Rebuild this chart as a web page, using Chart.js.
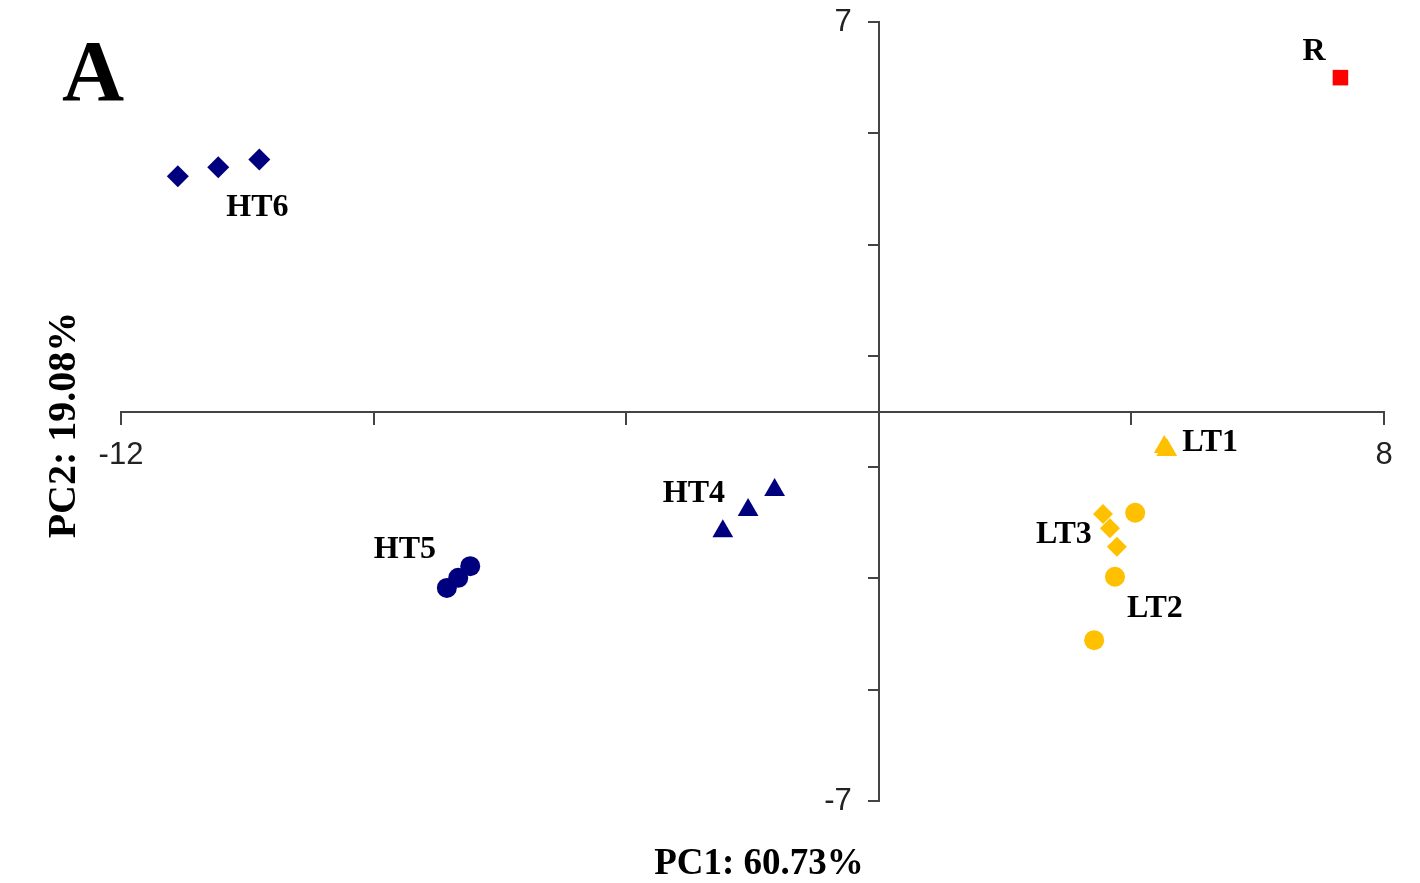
<!DOCTYPE html>
<html>
<head>
<meta charset="utf-8">
<script src="https://cdn.jsdelivr.net/npm/chart.js@4"></script>
<style>
  html, body { margin: 0; padding: 0; background: #fff; }
  #wrap { width: 1420px; height: 883px; }
</style>
</head>
<body>
<div id="wrap"><canvas id="pca"></canvas></div>
<script>
// PCA scores (PC1, PC2)
const ht6X = [-11.10, -10.46, -9.81];
const ht6Y = [4.23, 4.39, 4.53];
const ht5X = [-6.84, -6.66, -6.47];
const ht5Y = [-3.17, -2.99, -2.78];
const ht4X = [-2.47, -2.07, -1.65];
const ht4Y = [-2.15, -1.77, -1.41];
const lt1X = [4.52, 4.56];
const lt1Y = [-0.64, -0.69];
const lt3X = [3.55, 3.66, 3.77];
const lt3Y = [-1.84, -2.10, -2.43];
const lt2X = [4.06, 3.74, 3.41];
const lt2Y = [-1.82, -2.97, -4.11];
const rX = [7.31];
const rY = [6.00];

const xTickLabels = [-12, 8];
const yTickLabels = [7, -7];

const toPoints = (xs, ys) => xs.map((x, i) => ({ x: x, y: ys[i] }));

const NAVY = '#00007f';
const GOLD = '#ffc000';

function group(label, xs, ys, color, style, radius) {
  return {
    label: label,
    data: toPoints(xs, ys),
    backgroundColor: color,
    borderColor: color,
    borderWidth: 0,
    pointStyle: style,
    pointRadius: radius,
    pointHoverRadius: radius
  };
}

// where each group's name sits: which point it hangs off, and pixel offset of the text
const labelPlace = {
  HT6: { idx: 2, dx: -33, dy: 57 },
  HT5: { idx: 0, dx: -73, dy: -30 },
  HT4: { idx: 0, dx: -60, dy: -29 },
  LT1: { idx: 0, dx: 18, dy: 4 },
  LT3: { idx: 0, dx: -67, dy: 29 },
  LT2: { idx: 1, dx: 12, dy: 40 },
  R:   { idx: 0, dx: -38, dy: -18 }
};

const tickFont = '31px "Liberation Sans", Arial, sans-serif';

const decor = {
  id: 'decor',
  afterDatasetsDraw(chart) {
    const ctx = chart.ctx;
    const xs = chart.scales.x, ys = chart.scales.y;
    ctx.save();

    // y tick labels sit left of the centre axis
    ctx.fillStyle = '#222';
    ctx.font = tickFont;
    ctx.textAlign = 'right';
    ctx.textBaseline = 'middle';
    const axisX = xs.getPixelForValue(0);
    yTickLabels.forEach(v => {
      ctx.fillText(String(v), axisX - 27, ys.getPixelForValue(v));
    });

    ctx.fillStyle = '#000';
    ctx.textAlign = 'left';
    ctx.textBaseline = 'alphabetic';
    ctx.font = 'bold 32px "Liberation Serif", "Times New Roman", serif';
    chart.data.datasets.forEach(ds => {
      const p = labelPlace[ds.label];
      const pt = ds.data[p.idx];
      ctx.fillText(ds.label, xs.getPixelForValue(pt.x) + p.dx, ys.getPixelForValue(pt.y) + p.dy);
    });

    // panel letter
    ctx.font = 'bold 86px "Liberation Serif", "Times New Roman", serif';
    ctx.fillText('A', 62, 100);

    // axis titles
    ctx.textAlign = 'center';
    ctx.font = 'bold 37px "Liberation Serif", "Times New Roman", serif';
    ctx.fillText('PC1: 60.73%', 759, 874);
    ctx.translate(75, 425);
    ctx.rotate(-Math.PI / 2);
    ctx.font = 'bold 40px "Liberation Serif", "Times New Roman", serif';
    ctx.fillText('PC2: 19.08%', 0, 0);
    ctx.restore();
  }
};

new Chart(document.getElementById('pca'), {
  type: 'scatter',
  data: {
    datasets: [
      group('HT6', ht6X, ht6Y, NAVY, 'rectRot', 11),
      group('HT5', ht5X, ht5Y, NAVY, 'circle', 10),
      group('HT4', ht4X, ht4Y, NAVY, 'triangle', 12),
      group('LT1', lt1X, lt1Y, GOLD, 'triangle', 12),
      group('LT3', lt3X, lt3Y, GOLD, 'rectRot', 10),
      group('LT2', lt2X, lt2Y, GOLD, 'circle', 10),
      group('R', rX, rY, '#ff0000', 'rect', 11)
    ]
  },
  options: {
    responsive: true,
    maintainAspectRatio: false,
    animation: false,
    layout: { padding: { left: 121, right: 36, top: 22, bottom: 82 } },
    plugins: {
      legend: { display: false },
      tooltip: { enabled: false }
    },
    scales: {
      x: {
        type: 'linear',
        min: -12,
        max: 8,
        position: { y: 0 },
        afterFit: s => { s.height = 0; },
        border: { display: true, color: '#444', width: 2 },
        grid: { drawOnChartArea: false, drawTicks: true, tickLength: 12, color: '#444', lineWidth: 2 },
        ticks: {
          stepSize: 4,
          autoSkip: false,
          maxRotation: 0,
          padding: 13,
          color: '#222',
          font: { family: '"Liberation Sans", Arial, sans-serif', size: 31 },
          callback: v => xTickLabels.includes(v) ? String(v) : ''
        }
      },
      y: {
        type: 'linear',
        min: -7,
        max: 7,
        position: { x: 0 },
        afterFit: s => { s.width = 0; },
        border: { display: true, color: '#444', width: 2 },
        grid: { drawOnChartArea: false, drawTicks: true, tickLength: 10, color: '#444', lineWidth: 2 },
        ticks: {
          stepSize: 2,
          autoSkip: false,
          display: false
        }
      }
    }
  },
  plugins: [decor]
});
</script>
</body>
</html>
